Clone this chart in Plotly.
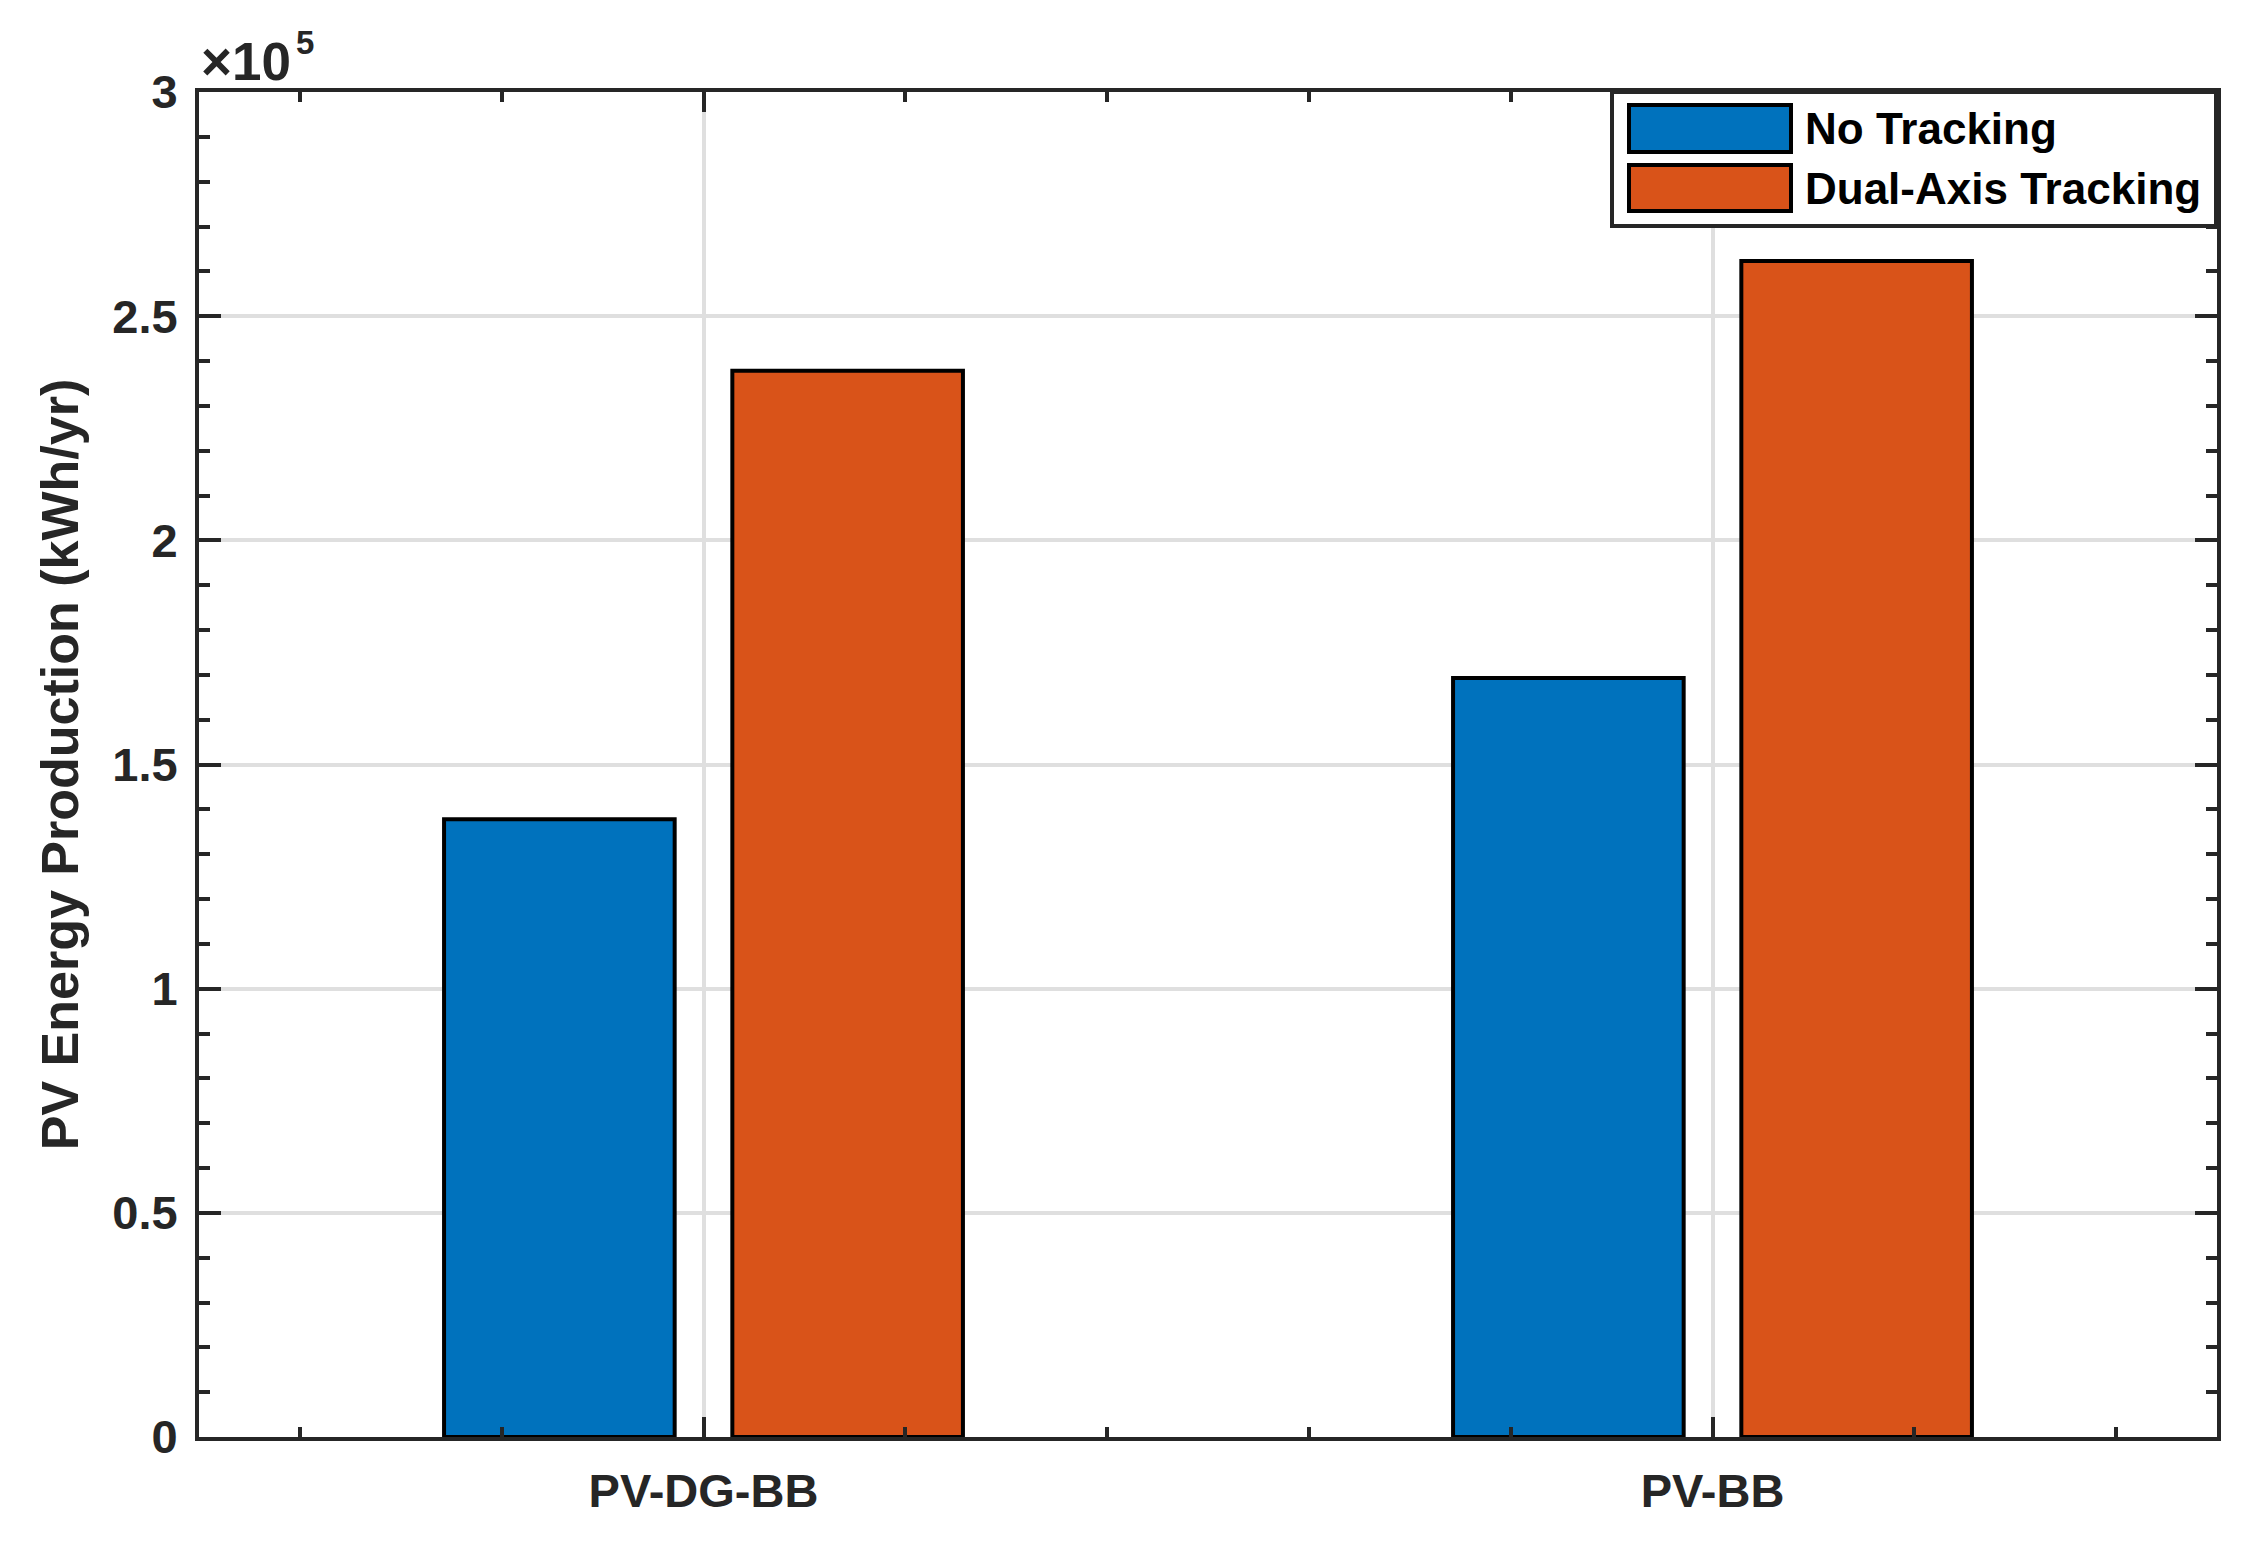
import plotly.graph_objects as go

# ---- data ----
categories = ["PV-DG-BB", "PV-BB"]
cat_pos = [1, 2]
no_tracking = [137800, 169300]
dual_axis = [237800, 262300]
series_names = ["No Tracking", "Dual-Axis Tracking"]
y_tickvals = [0, 50000, 100000, 150000, 200000, 250000, 300000]
y_ticktext = ["0", "0.5", "1", "1.5", "2", "2.5", "3"]

# ---- style ----
OFF = 8  # default page body margin
W, H = 2257 - 2 * OFF, 1545 - 2 * OFF
L, R, T, B = 199 - OFF, 2217 - OFF, 92 - OFF, 1437 - OFF
AX = "#262626"
FONT = "Liberation Sans"
C_BLUE = "#0072BD"
C_ORANGE = "#D95319"


def px_x(p):
    return (p - OFF - L) / (R - L)


def px_y(p):
    return (B - (p - OFF)) / (B - T)


fig = go.Figure()
fig.add_trace(go.Bar(x=cat_pos, y=no_tracking, name=series_names[0],
                     marker=dict(color=C_BLUE, line=dict(color="black", width=4)),
                     showlegend=False))
fig.add_trace(go.Bar(x=cat_pos, y=dual_axis, name=series_names[1],
                     marker=dict(color=C_ORANGE, line=dict(color="black", width=4)),
                     showlegend=False))

fig.update_layout(
    width=W, height=H,
    margin=dict(l=L, r=W - R, t=T, b=H - B, pad=0),
    paper_bgcolor="white", plot_bgcolor="white",
    barmode="group", bargap=0.4286, bargroupgap=0.2,
    font=dict(family=FONT, color=AX, size=47, weight="bold"),
    showlegend=False,
)

fig.update_xaxes(
    range=[0.5, 2.5], tickvals=cat_pos, ticktext=categories,
    showline=True, linecolor=AX, linewidth=4, mirror="ticks",
    ticks="inside", ticklen=20, tickwidth=4, tickcolor=AX,
    showgrid=True, gridcolor="#DFDFDF", gridwidth=4,
    tickfont=dict(family=FONT, size=47, color=AX, weight="bold"),
    ticklabelstandoff=10,
    minor=dict(tick0=0, dtick=0.2, ticks="inside", ticklen=10, tickwidth=4,
               tickcolor=AX, showgrid=False),
    zeroline=False, fixedrange=True,
)
fig.update_yaxes(
    range=[0, 300000], tickvals=y_tickvals, ticktext=y_ticktext,
    showline=True, linecolor=AX, linewidth=4, mirror="ticks",
    ticks="inside", ticklen=22, tickwidth=4, tickcolor=AX,
    showgrid=True, gridcolor="#DFDFDF", gridwidth=4,
    tickfont=dict(family=FONT, size=47, color=AX, weight="bold"),
    ticklabelstandoff=8,
    minor=dict(tick0=0, dtick=10000, ticks="inside", ticklen=11, tickwidth=4,
               tickcolor=AX, showgrid=False),
    title=dict(text="PV Energy Production (kWh/yr)", standoff=18,
               font=dict(family=FONT, size=52, color=AX, weight="bold")),
    zeroline=False, fixedrange=True,
)

# exponent label (×10 and superscript 5)
fig.add_annotation(xref="paper", yref="paper", x=px_x(199), y=px_y(62),
                   xanchor="left", yanchor="middle", showarrow=False,
                   text="×10",
                   font=dict(family=FONT, size=53, color=AX, weight="bold"))
fig.add_annotation(xref="paper", yref="paper", x=px_x(294), y=px_y(42),
                   xanchor="left", yanchor="middle", showarrow=False,
                   text="5",
                   font=dict(family=FONT, size=33, color=AX, weight="bold"))

# legend (box, patches, labels)
fig.add_shape(type="rect", xref="paper", yref="paper",
              x0=px_x(1612), x1=px_x(2216), y0=px_y(226), y1=px_y(92),
              fillcolor="white", line=dict(color=AX, width=4), layer="above")
legend_rows = [(105, 152), (165, 211)]
legend_colors = [C_BLUE, C_ORANGE]
for (ya, yb), col, name in zip(legend_rows, legend_colors, series_names):
    fig.add_shape(type="rect", xref="paper", yref="paper",
                  x0=px_x(1629), x1=px_x(1791), y0=px_y(yb), y1=px_y(ya),
                  fillcolor=col, line=dict(color="black", width=4), layer="above")
    fig.add_annotation(xref="paper", yref="paper", x=px_x(1803), y=px_y((ya + yb) / 2),
                       xanchor="left", yanchor="middle", showarrow=False, text=name,
                       font=dict(family=FONT, size=44, color="black", weight="bold"))

fig.write_html("out.html")
